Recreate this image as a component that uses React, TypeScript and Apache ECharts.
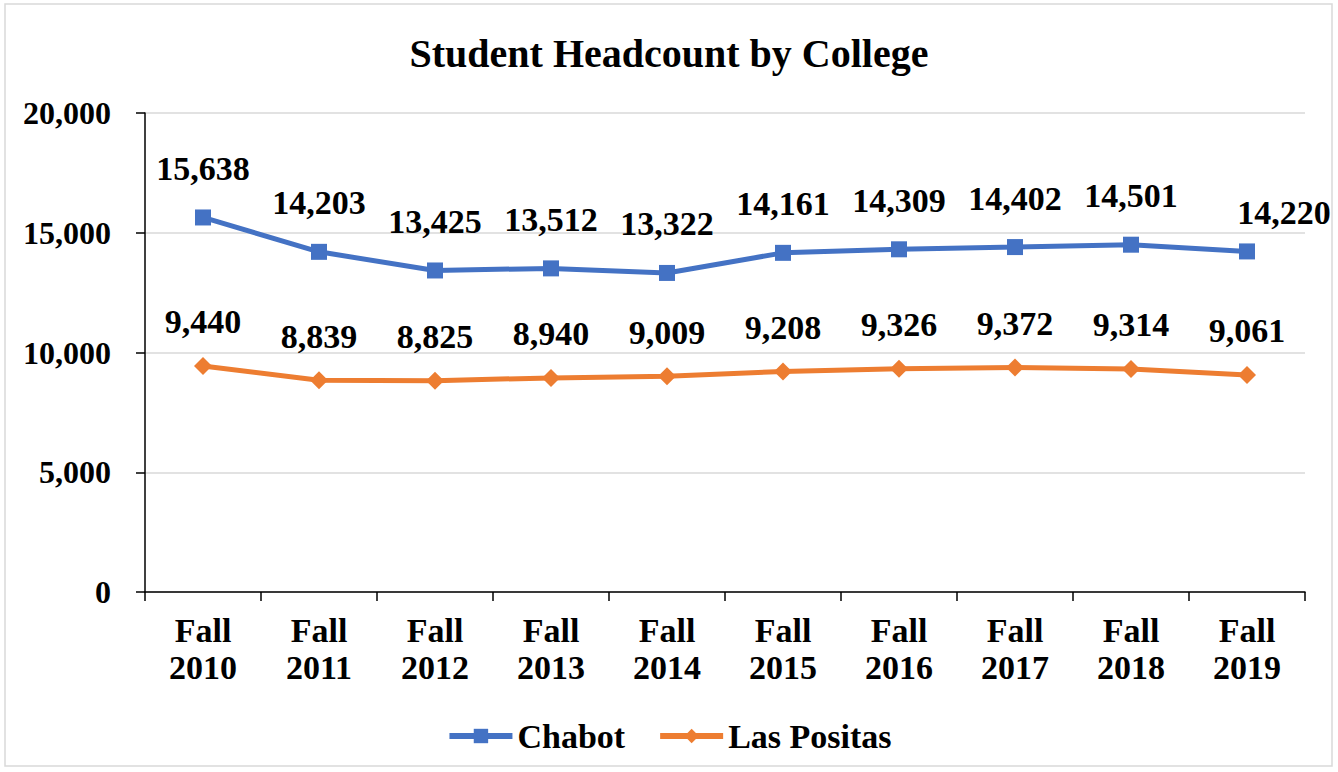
import React, { useEffect, useRef } from "react";
import * as echarts from "echarts";

const categories = ["Fall\n2010", "Fall\n2011", "Fall\n2012", "Fall\n2013", "Fall\n2014", "Fall\n2015", "Fall\n2016", "Fall\n2017", "Fall\n2018", "Fall\n2019"];
const chabot = [15638, 14203, 13425, 13512, 13322, 14161, 14309, 14402, 14501, 14220];
const lasPositas = [9440, 8839, 8825, 8940, 9009, 9208, 9326, 9372, 9314, 9061];

const FONT = "'Liberation Serif', 'Times New Roman', serif";
const fmt = (v: number) => v.toLocaleString("en-US");

export default function App() {
  const ref = useRef<HTMLDivElement>(null);
  useEffect(() => {
    document.body.style.margin = "0";
    const chart = echarts.init(ref.current!, null, { renderer: "svg" });
    const textBase = { fontFamily: FONT, fontWeight: "bold" as const, color: "#000", fontSize: 32 };
    chart.setOption({
      animation: false,
      backgroundColor: "#fff",
      graphic: [
        {
          type: "rect",
          shape: { x: 5, y: 4, width: 1327, height: 762 },
          style: { fill: "none", stroke: "#d9d9d9", lineWidth: 1.5 },
          silent: true,
          z: -1,
        },
      ],
      title: {
        text: "Student Headcount by College",
        left: "center",
        top: 28,
        textStyle: { ...textBase, fontSize: 40 },
      },
      legend: {
        bottom: 14,
        left: "center",
        itemWidth: 63,
        itemHeight: 18,
        itemGap: 32,
        textStyle: { ...textBase, fontSize: 34 },
        data: [
          { name: "Chabot", lineStyle: { width: 6 } },
          { name: "Las Positas", lineStyle: { width: 6 } },
        ],
      },
      grid: { left: 145, right: 33, top: 113, bottom: 180, containLabel: false },
      xAxis: {
        type: "category",
        data: categories,
        boundaryGap: true,
        axisLine: { lineStyle: { color: "#000", width: 1.5 } },
        axisTick: { show: true, length: 9, lineStyle: { color: "#000", width: 1.5 } },
        axisLabel: { ...textBase, fontSize: 34, lineHeight: 37, margin: 20 },
      },
      yAxis: {
        type: "value",
        min: 0,
        max: 20000,
        interval: 5000,
        axisLine: { show: true, lineStyle: { color: "#000", width: 1.5 } },
        axisTick: { show: true, length: 9, lineStyle: { color: "#000", width: 1.5 } },
        splitLine: { lineStyle: { color: "#d9d9d9", width: 1.5 } },
        axisLabel: { ...textBase, margin: 34, formatter: (v: number) => fmt(v) },
      },
      series: [
        {
          name: "Chabot",
          type: "line",
          data: chabot.map((v, i) =>
            i === chabot.length - 1
              ? { value: v, label: { offset: [37, 10] } }
              : v
          ),
          symbol: "rect",
          symbolSize: 16,
          itemStyle: { color: "#4472C4" },
          lineStyle: { color: "#4472C4", width: 5 },
          label: {
            show: true,
            position: "top",
            distance: 24,
            ...textBase,
            fontSize: 34,
            formatter: (p: any) => fmt(p.value),
          },
        },
        {
          name: "Las Positas",
          type: "line",
          data: lasPositas,
          symbol: "diamond",
          symbolSize: 18,
          itemStyle: { color: "#ED7D31" },
          lineStyle: { color: "#ED7D31", width: 5 },
          label: {
            show: true,
            position: "top",
            distance: 18,
            ...textBase,
            fontSize: 34,
            formatter: (p: any) => fmt(p.value),
          },
        },
      ],
    });
    return () => chart.dispose();
  }, []);
  return <div ref={ref} style={{ position: "absolute", left: 0, top: 0, width: 1338, height: 772 }} />;
}
